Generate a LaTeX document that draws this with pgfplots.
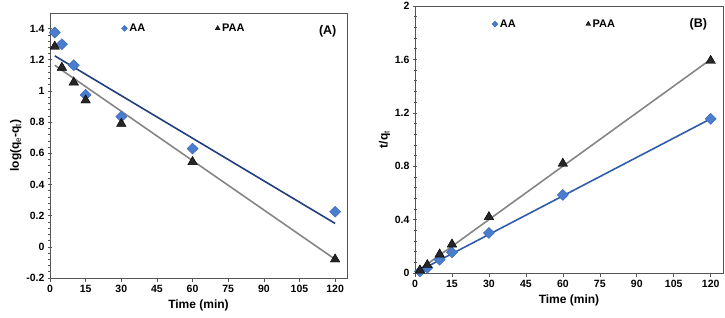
\documentclass[border=0pt]{standalone}
\usepackage{pgfplots}
\pgfplotsset{compat=1.18}
\usepackage{fontspec}
\setmainfont{Liberation Sans}
\definecolor{aablue}{HTML}{4A7CD0}
\definecolor{aaedge}{HTML}{3A66B0}
\definecolor{navy}{HTML}{1F3F7E}
\definecolor{fitblue}{HTML}{2E5DAA}
\definecolor{fitgray}{HTML}{858585}
\definecolor{framegray}{HTML}{555555}
\pgfplotsset{
  mystyle/.style={
    scale only axis,
    axis line style={framegray, line width=0.8pt},
    every tick/.style={framegray, line width=0.6pt},
    tick style={framegray},
    xtick={0,15,...,120},
    minor y tick num=4,
    xtick align=outside,
    ytick align=center,
    major tick length=4pt,
    minor tick length=3pt,
    xtick pos=bottom, ytick pos=left,
    tick label style={font=\fontsize{10.5}{11}\selectfont\bfseries},
    label style={font=\fontsize{12}{13}\selectfont\bfseries},
    /pgf/number format/assume math mode=true,
    legend cell align=left,
    legend style={draw=none, fill=none, font=\fontsize{11}{12}\selectfont\bfseries, legend columns=2,
      /tikz/every even column/.append style={column sep=68pt}},
    xlabel={Time (min)},
  },
  aamark/.style={only marks, mark=diamond*, mark size=5.5pt, mark options={xscale=1.35, fill=aablue, draw=aaedge, line width=0.4pt},
    legend image code/.code={\draw[mark=diamond*, mark size=3pt, mark options={xscale=1.3}, fill=aablue, draw=aaedge] plot coordinates {(0.1cm,0cm)};}},
  paamark/.style={only marks, mark=triangle*, mark size=5.5pt, mark options={fill=black!85, draw=black},
    legend image code/.code={\draw[mark=triangle*, mark size=2.8pt, fill=black!85, draw=black] plot coordinates {(0.1cm,0cm)};}},
}
\begin{document}
\begin{tikzpicture}
\useasboundingbox (0,0) rectangle (725pt,317pt);
\begin{axis}[mystyle,
  at={(50pt,39pt)}, anchor=south west,
  width=297pt, height=265pt,
  xmin=0, xmax=125, ymin=-0.2, ymax=1.5,
  ytick={-0.2,0,0.2,0.4,0.6,0.8,1,1.2,1.4},
  yticklabels={-0.2,0,0.2,0.4,0.6,0.8,1,1.2,1.4},
  ylabel={log(q$_\mathrm{e}$-q$_\mathrm{t}$)},
  ylabel style={yshift=-2pt},
  legend style={at={(0.23,0.975)}, anchor=north west},
]
\addplot[fitgray, line width=1.6pt, forget plot] coordinates {(2,1.165) (120,-0.08)};
\addplot[navy, line width=1.6pt, forget plot] coordinates {(2,1.225) (120,0.15)};
\addplot[aamark] coordinates {(2,1.375) (5,1.30) (10,1.165) (15,0.975) (30,0.835) (60,0.63) (120,0.225)};
\addlegendentry{AA}
\addplot[paamark] coordinates {(2,1.285) (5,1.15) (10,1.055) (15,0.94) (30,0.79) (60,0.545) (120,-0.08)};
\addlegendentry{PAA}
\node[font=\fontsize{12.5}{13}\selectfont\bfseries] at (rel axis cs:0.935,0.93) {(A)};
\end{axis}
\begin{axis}[mystyle,
  at={(415pt,44pt)}, anchor=south west,
  width=308pt, height=267pt,
  xmin=0, xmax=125, ymin=0, ymax=2,
  ytick={0,0.4,0.8,1.2,1.6,2},
  yticklabels={0,0.4,0.8,1.2,1.6,2},
  ylabel={t/q$_\mathrm{t}$},
  ylabel style={yshift=-2pt},
  legend style={at={(0.24,0.965)}, anchor=north west},
]
\addplot[fitgray, line width=1.6pt, forget plot] coordinates {(0,0.0) (120,1.6)};
\addplot[fitblue, line width=1.6pt, forget plot] coordinates {(0,0.0) (120,1.155)};
\addplot[aamark] coordinates {(2,0.012) (5,0.04) (10,0.10) (15,0.155) (30,0.30) (60,0.585) (120,1.155)};
\addlegendentry{AA}
\addplot[paamark] coordinates {(2,0.02) (5,0.06) (10,0.14) (15,0.215) (30,0.42) (60,0.82) (120,1.59)};
\addlegendentry{PAA}
\node[font=\fontsize{12.5}{13}\selectfont\bfseries] at (rel axis cs:0.92,0.93) {(B)};
\end{axis}
\end{tikzpicture}
\end{document}
